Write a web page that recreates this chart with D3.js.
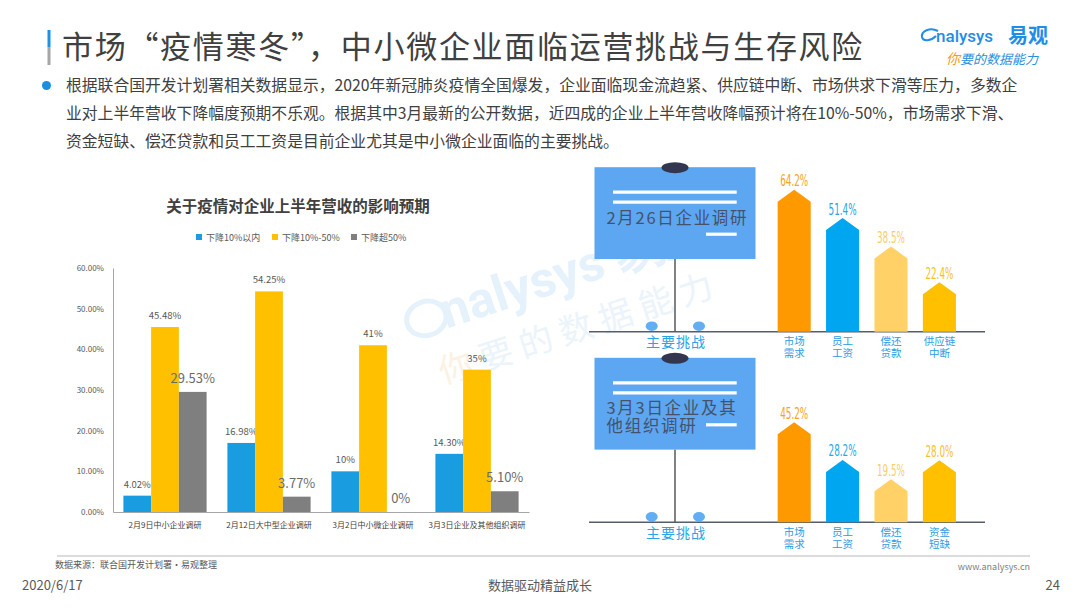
<!DOCTYPE html>
<html>
<head>
<meta charset="utf-8">
<title>市场“疫情寒冬”，中小微企业面临运营挑战与生存风险</title>
<style>
  body{ margin:0; background:#fff; }
  svg{ display:block; font-family:"Noto Sans CJK SC","Noto Sans",sans-serif; }
  .narrow{ font-family:"Liberation Sans Narrow","DejaVu Sans Condensed","Noto Sans",sans-serif; }
</style>
</head>
<body>
<div id="chart"></div>
<script src="https://d3js.org/d3.v7.min.js"></script>
<script>
// ---- left chart: expected H1 revenue impact ----
var surveyGroups = ["2月9日中小企业调研", "2月12日大中型企业调研", "3月2日中小微企业调研", "3月3日企业及其他组织调研"];
var seriesNames = ["下降10%以内", "下降10%-50%", "下降超50%"];
var declineWithin10 = [4.02, 16.98, 10, 14.30];
var decline10to50 = [45.48, 54.25, 41, 35];
var declineOver50 = [29.53, 3.77, 0, 5.10];
var labelsWithin10 = ["4.02%", "16.98%", "10%", "14.30%"];
var labels10to50 = ["45.48%", "54.25%", "41%", "35%"];
var labelsOver50 = ["29.53%", "3.77%", "0%", "5.10%"];
var yTicks = [0, 10, 20, 30, 40, 50, 60];

// ---- right side: main challenges ----
var feb26Title = ["2月26日企业调研"];
var feb26Categories = [["市场", "需求"], ["员工", "工资"], ["偿还", "贷款"], ["供应链", "中断"]];
var feb26Values = [64.2, 51.4, 38.5, 22.4];
var mar3Title = ["3月3日企业及其", "他组织调研"];
var mar3Categories = [["市场", "需求"], ["员工", "工资"], ["偿还", "贷款"], ["资金", "短缺"]];
var mar3Values = [45.2, 28.2, 19.5, 28.0];

var W = 1080, H = 608;
var svg = d3.select("#chart").append("svg")
    .attr("width", W)
    .attr("height", H);

// watermark (drawn first so everything sits on top)
var wm = svg.append("g").attr("transform", "translate(418,338) rotate(-18)");
wm.append("ellipse")
    .attr("cx", 14).attr("cy", -16).attr("rx", 20).attr("ry", 17)
    .attr("fill", "none").attr("stroke", "#e6f2fb").attr("stroke-width", 5);
wm.append("text")
    .attr("x", 30).attr("y", 0)
    .attr("font-size", 50).attr("font-weight", "bold")
    .attr("fill", "#e6f2fb")
    .attr("font-family", "Roboto, sans-serif")
    .text("nalysys 易观");
var wm2 = wm.append("text")
    .attr("x", 10).attr("y", 52)
    .attr("font-size", 34)
    .attr("letter-spacing", 8)
    .attr("fill", "#ecf4fb");
wm2.append("tspan").attr("fill", "#fdf1e4").text("你");
wm2.append("tspan").text("要的数据能力");

// ---- header ----
svg.append("rect").attr("x", 47.5).attr("y", 30).attr("width", 3).attr("height", 17).attr("fill", "#1e90e6");
svg.append("rect").attr("x", 47.5).attr("y", 47).attr("width", 3).attr("height", 18).attr("fill", "#a6a6a6");
svg.append("text")
    .attr("x", 62).attr("y", 58)
    .attr("font-size", 31)
    .attr("letter-spacing", 1.7)
    .attr("fill", "#404040")
    .text("市场“疫情寒冬”，中小微企业面临运营挑战与生存风险");

// logo
var logo = svg.append("g");
logo.append("path")
    .attr("d", "M938,31 C930,27 921,31 922,37 C923,42 931,41 936,36")
    .attr("fill", "none").attr("stroke", "#1f8ee8").attr("stroke-width", 2);
logo.append("text")
    .attr("x", 936).attr("y", 42)
    .attr("font-size", 17).attr("font-weight", 500)
    .attr("font-family", "Roboto, sans-serif")
    .attr("fill", "#1f8ee8")
    .text("nalysys");
logo.append("text")
    .attr("x", 1008).attr("y", 43)
    .attr("font-size", 20).attr("font-weight", "bold")
    .attr("fill", "#1f8ee8")
    .text("易观");
var tag = logo.append("text")
    .attr("x", 946).attr("y", 64)
    .attr("font-size", 13).attr("font-style", "italic")
    .attr("fill", "#2b8fe0");
tag.append("tspan").attr("fill", "#f39c1f").attr("font-size", 14).text("你");
tag.append("tspan").text("要的数据能力");

// intro paragraph
var introLines = [
    "根据联合国开发计划署相关数据显示，2020年新冠肺炎疫情全国爆发，企业面临现金流趋紧、供应链中断、市场供求下滑等压力，多数企",
    "业对上半年营收下降幅度预期不乐观。根据其中3月最新的公开数据，近四成的企业上半年营收降幅预计将在10%-50%，市场需求下滑、",
    "资金短缺、偿还贷款和员工工资是目前企业尤其是中小微企业面临的主要挑战。"
];
svg.append("circle").attr("cx", 46.5).attr("cy", 85.5).attr("r", 4.5).attr("fill", "#1a8fe0");
svg.append("g").selectAll("text")
    .data(introLines)
    .enter().append("text")
    .attr("x", 66)
    .attr("y", function(d, i){ return 91 + i * 28; })
    .attr("font-size", 15.8)
    .attr("fill", "#404040")
    .text(function(d){ return d; });

// ---- left grouped bar chart ----
var seriesValues = [declineWithin10, decline10to50, declineOver50];
var seriesLabels = [labelsWithin10, labels10to50, labelsOver50];
var seriesColor = d3.scaleOrdinal().domain(seriesNames).range(["#1a9de0", "#ffc000", "#7f7f7f"]);

var x0 = d3.scaleBand().domain(surveyGroups).range([113, 529]).paddingInner(0.2).paddingOuter(0.1);
var x1 = d3.scaleBand().domain(seriesNames).range([0, x0.bandwidth()]);
var y = d3.scaleLinear().domain([0, 60]).range([512, 268]);

var left = svg.append("g");

left.append("text")
    .attr("x", 298).attr("y", 212)
    .attr("text-anchor", "middle")
    .attr("font-size", 15.5).attr("font-weight", "bold")
    .attr("fill", "#404040")
    .text("关于疫情对企业上半年营收的影响预期");

var legendX = [196, 272, 351];
var legend = left.selectAll(".legend")
    .data(seriesNames)
    .enter().append("g")
    .attr("transform", function(d, i){ return "translate(" + legendX[i] + ",237)"; });
legend.append("rect")
    .attr("x", 0).attr("y", -3).attr("width", 6).attr("height", 6)
    .attr("fill", function(d){ return seriesColor(d); });
legend.append("text")
    .attr("x", 10).attr("y", 3.5)
    .attr("font-size", 9)
    .attr("fill", "#595959")
    .text(function(d){ return d; });

var yAxis = left.append("g")
    .attr("transform", "translate(113,0)")
    .call(d3.axisLeft(y).tickValues(yTicks).tickSize(0).tickPadding(9)
        .tickFormat(function(d){ return d.toFixed(2) + "%"; }));
yAxis.select(".domain").attr("stroke", "#a6a6a6");
yAxis.selectAll("text").attr("font-size", 8).attr("fill", "#595959")
    .attr("font-family", "'Noto Sans CJK SC', sans-serif");

var xAxis = left.append("g")
    .attr("transform", "translate(0,512)")
    .call(d3.axisBottom(x0).tickSize(0).tickPadding(10));
xAxis.select(".domain").attr("stroke", "#a6a6a6");
xAxis.selectAll("text").attr("font-size", 8).attr("fill", "#404040")
    .attr("font-family", "'Noto Sans CJK SC', sans-serif");

seriesNames.forEach(function(name, si){
    var g = left.append("g");
    g.selectAll("rect")
        .data(seriesValues[si])
        .enter().append("rect")
        .attr("x", function(d, i){ return x0(surveyGroups[i]) + x1(name); })
        .attr("y", function(d){ return y(d); })
        .attr("width", x1.bandwidth())
        .attr("height", function(d){ return y(0) - y(d); })
        .attr("fill", seriesColor(name));
    // the "over 50%" labels are set bigger in the source slide
    g.selectAll("text")
        .data(seriesValues[si])
        .enter().append("text")
        .attr("x", function(d, i){ return x0(surveyGroups[i]) + x1(name) + x1.bandwidth() / 2; })
        .attr("y", function(d){ return y(d) - (si === 2 ? 9 : 8); })
        .attr("text-anchor", "middle")
        .attr("font-size", si === 2 ? 13 : 9.5)
        .attr("fill", si === 2 ? "#6b6b6b" : "#595959")
        .text(function(d, i){ return seriesLabels[si][i]; });
});

// ---- right side panels ----
var barColors = ["#ff9900", "#00a6ef", "#ffd166", "#ffc000"];
var labelColors = ["#f7a21b", "#23a7ea", "#fbcd6a", "#f8bf1c"];
var bx = d3.scaleBand().domain(d3.range(4)).range([770, 963.6]).paddingInner(0.317).paddingOuter(0.158);
var bh = d3.scaleLinear().domain([0, 64.2]).range([0, 142]);

function drawPanel(baseY, titleLines, cats, vals){
    var g = svg.append("g");
    var boardTop = baseY - 164.5, boardBottom = baseY - 72.7;

    // pole and ground line
    g.append("line")
        .attr("x1", 675).attr("x2", 675)
        .attr("y1", boardBottom).attr("y2", baseY)
        .attr("stroke", "#595959").attr("stroke-width", 1.5);
    [651.7, 699].forEach(function(cx){
        g.append("ellipse")
            .attr("cx", cx).attr("cy", baseY - 5.5)
            .attr("rx", 6).attr("ry", 4.8)
            .attr("fill", "#63adf2");
    });
    g.append("line")
        .attr("x1", 589).attr("x2", 985)
        .attr("y1", baseY).attr("y2", baseY)
        .attr("stroke", "#565d6b").attr("stroke-width", 1.5);

    // sign board
    g.append("rect")
        .attr("x", 594.5).attr("y", boardTop)
        .attr("width", 161).attr("height", boardBottom - boardTop)
        .attr("fill", "#5ca6f2");
    g.append("ellipse")
        .attr("cx", 675).attr("cy", boardTop + 0.5)
        .attr("rx", 13.5).attr("ry", 5.5)
        .attr("fill", "#33364f");
    [[613, 736.7, 25], [613, 736.7, 35], [706, 736.7, 67]].forEach(function(l){
        g.append("line")
            .attr("x1", l[0]).attr("x2", l[1])
            .attr("y1", boardTop + l[2]).attr("y2", boardTop + l[2])
            .attr("stroke", "#ffffff").attr("stroke-width", 3.2);
    });
    g.selectAll(".bt")
        .data(titleLines)
        .enter().append("text")
        .attr("x", 606.5)
        .attr("y", function(d, i){ return boardTop + 56.5 + i * 17.5; })
        .attr("font-size", 16.5)
        .attr("letter-spacing", 1.7)
        .attr("fill", "#45526a")
        .text(function(d){ return d; });

    g.append("text")
        .attr("x", 676).attr("y", baseY + 15.5)
        .attr("text-anchor", "middle")
        .attr("font-size", 14).attr("letter-spacing", 1)
        .attr("fill", "#29a3ea")
        .text("主要挑战");

    // arrow-top bars
    g.selectAll("path.bar")
        .data(vals)
        .enter().append("path")
        .attr("class", "bar")
        .attr("d", function(d, i){
            var xa = bx(i), xb = bx(i) + bx.bandwidth(), xc = (xa + xb) / 2;
            var top = baseY - bh(d), shoulder = top + 12;
            return "M" + xa + "," + baseY + "L" + xa + "," + shoulder + "L" + xc + "," + top +
                   "L" + xb + "," + shoulder + "L" + xb + "," + baseY + "Z";
        })
        .attr("fill", function(d, i){ return barColors[i]; });

    g.selectAll("text.val")
        .data(vals)
        .enter().append("text")
        .attr("class", "val narrow")
        .attr("x", function(d, i){ return bx(i) + bx.bandwidth() / 2; })
        .attr("y", function(d){ return baseY - bh(d) - 3.5; })
        .attr("text-anchor", "middle")
        .attr("font-size", 15)
        .attr("textLength", 28)
        .attr("lengthAdjust", "spacingAndGlyphs")
        .attr("fill", function(d, i){ return labelColors[i]; })
        .text(function(d){ return d3.format(".1f")(d) + "%"; });

    var catText = g.selectAll("text.cat")
        .data(cats)
        .enter().append("text")
        .attr("class", "cat")
        .attr("text-anchor", "middle")
        .attr("font-size", 10.5)
        .attr("fill", "#2e9be6");
    catText.selectAll("tspan")
        .data(function(d, i){ return d.map(function(s){ return {s: s, i: i}; }); })
        .enter().append("tspan")
        .attr("x", function(d){ return bx(d.i) + bx.bandwidth() / 2; })
        .attr("y", function(d, j){ return baseY + 13.5 + j * 12; })
        .text(function(d){ return d.s; });
}

drawPanel(331.7, feb26Title, feb26Categories, feb26Values);
drawPanel(522.3, mar3Title, mar3Categories, mar3Values);

// ---- footer ----
svg.append("rect").attr("x", 57).attr("y", 555).attr("width", 973).attr("height", 2).attr("fill", "#dcdcdc");
svg.append("text")
    .attr("x", 55).attr("y", 568)
    .attr("font-size", 9).attr("fill", "#595959")
    .text("数据来源：联合国开发计划署·易观整理");
svg.append("text")
    .attr("x", 1030).attr("y", 570)
    .attr("text-anchor", "end")
    .attr("font-size", 9).attr("fill", "#7f7f7f")
    .text("www.analysys.cn");
svg.append("text")
    .attr("x", 22).attr("y", 590)
    .attr("font-size", 13).attr("fill", "#595959")
    .text("2020/6/17");
svg.append("text")
    .attr("x", 540).attr("y", 590)
    .attr("text-anchor", "middle")
    .attr("font-size", 13).attr("fill", "#595959")
    .text("数据驱动精益成长");
svg.append("text")
    .attr("x", 1060).attr("y", 590)
    .attr("text-anchor", "end")
    .attr("font-size", 13).attr("fill", "#595959")
    .text("24");
</script>
</body>
</html>
